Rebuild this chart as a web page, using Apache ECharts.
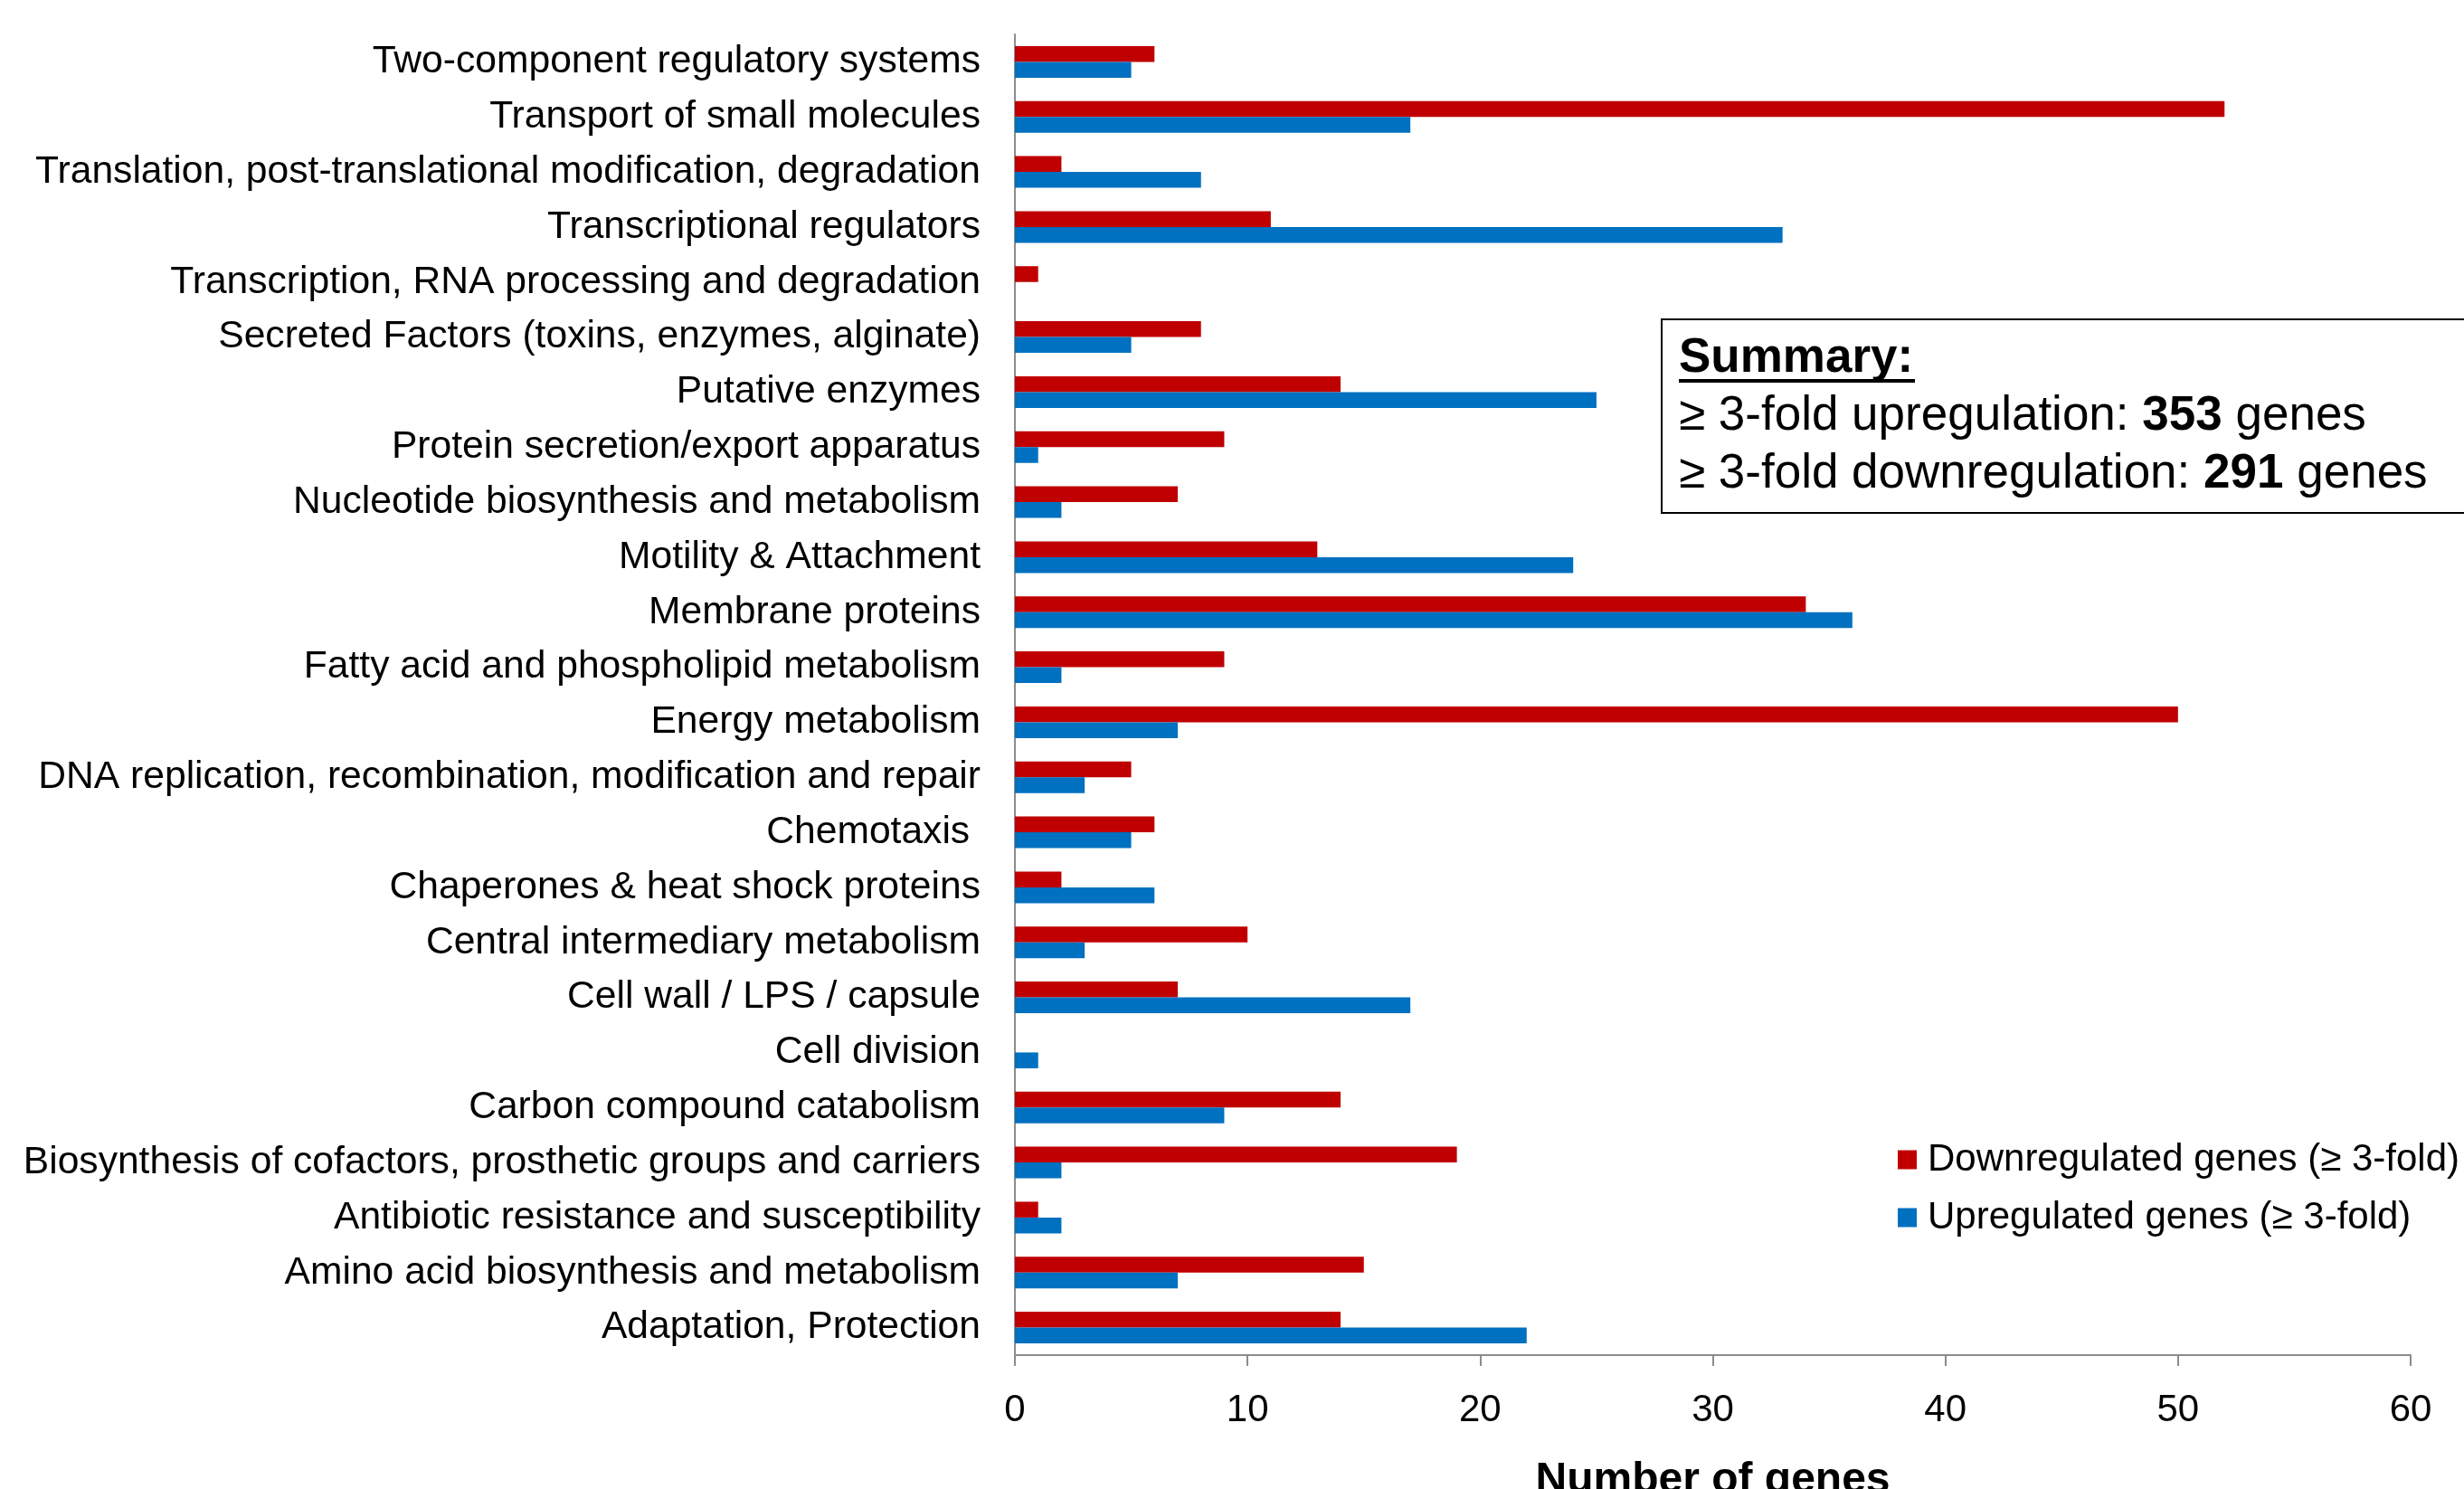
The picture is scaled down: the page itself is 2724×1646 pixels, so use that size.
<!DOCTYPE html>
<html>
<head>
<meta charset="utf-8">
<script src="https://cdn.jsdelivr.net/npm/echarts@6/dist/echarts.min.js"></script>
<style>
  html, body { margin: 0; padding: 0; background: #ffffff; }
  #chart { width: 2724px; height: 1646px; }
</style>
</head>
<body>
<div id="chart"></div>
<script>
// Functional categories, listed top to bottom
const categories = [
  'Two-component regulatory systems',
  'Transport of small molecules',
  'Translation, post-translational modification, degradation',
  'Transcriptional regulators',
  'Transcription, RNA processing and degradation',
  'Secreted Factors (toxins, enzymes, alginate)',
  'Putative enzymes',
  'Protein secretion/export apparatus',
  'Nucleotide biosynthesis and metabolism',
  'Motility & Attachment',
  'Membrane proteins',
  'Fatty acid and phospholipid metabolism',
  'Energy metabolism',
  'DNA replication, recombination, modification and repair',
  'Chemotaxis ',
  'Chaperones & heat shock proteins',
  'Central intermediary metabolism',
  'Cell wall / LPS / capsule',
  'Cell division',
  'Carbon compound catabolism',
  'Biosynthesis of cofactors, prosthetic groups and carriers',
  'Antibiotic resistance and susceptibility',
  'Amino acid biosynthesis and metabolism',
  'Adaptation, Protection'
];

// Number of genes per category
const downregulated = [6, 52, 2, 11, 1, 8, 14, 9, 7, 13, 34, 9, 50, 5, 6, 2, 10, 7, 0, 14, 19, 1, 15, 14];
const upregulated   = [5, 17, 8, 33, 0, 5, 25, 1, 2, 24, 36, 2, 7, 3, 5, 6, 3, 17, 1, 9, 2, 2, 7, 22];

const xTicks = { min: 0, max: 60, interval: 10 };

const seriesNames = ['Downregulated genes (\u2265 3-fold)', 'Upregulated genes (\u2265 3-fold)'];
const summaryUp = 353;
const summaryDown = 291;

const FONT = '"Liberation Sans", Arial, sans-serif';
const RED = '#C00000';
const BLUE = '#0070C0';
const AXIS_GREY = '#8C8C8C';

const chart = echarts.init(document.getElementById('chart'), null, { renderer: 'canvas' });

chart.setOption({
  backgroundColor: '#ffffff',
  animation: false,
  textStyle: { fontFamily: FONT, color: '#000' },
  grid: {
    left: 1122, right: 59, top: 38, bottom: 148,
    containLabel: false,
    outerBoundsMode: 'none'
  },
  legend: {
    orient: 'vertical',
    left: 2093,
    top: 1256,
    itemWidth: 21,
    itemHeight: 21,
    itemGap: 22,
    icon: 'rect',
    data: seriesNames,
    textStyle: { fontSize: 42, color: '#000', fontFamily: FONT, padding: [0, 0, 0, 7] }
  },
  xAxis: {
    type: 'value',
    min: xTicks.min,
    max: xTicks.max,
    interval: xTicks.interval,
    name: 'Number of genes',
    nameLocation: 'middle',
    nameGap: 115,
    nameTextStyle: { fontSize: 48, fontWeight: 'bold', color: '#000', fontFamily: FONT },
    axisLine: { show: true, lineStyle: { color: AXIS_GREY, width: 2 } },
    axisTick: { show: true, length: 12, lineStyle: { color: AXIS_GREY, width: 2 } },
    axisLabel: { fontSize: 42, color: '#000', margin: 40, fontFamily: FONT },
    splitLine: { show: false }
  },
  yAxis: {
    type: 'category',
    inverse: true,
    data: categories,
    axisLine: { show: true, lineStyle: { color: AXIS_GREY, width: 2 } },
    axisTick: { show: false },
    axisLabel: { fontSize: 42.6, color: '#000', margin: 38, fontFamily: FONT, interval: 0, padding: [9, 0, 0, 0] },
    splitLine: { show: false }
  },
  series: [
    {
      name: seriesNames[0],
      type: 'bar',
      data: downregulated,
      barWidth: 17.5,
      barGap: '0%',
      itemStyle: { color: RED }
    },
    {
      name: seriesNames[1],
      type: 'bar',
      data: upregulated,
      barWidth: 17.5,
      barGap: '0%',
      itemStyle: { color: BLUE }
    }
  ],
  graphic: [
    {
      type: 'rect',
      left: 1836,
      top: 352,
      shape: { width: 1000, height: 214 },
      style: { fill: '#fff', stroke: '#000', lineWidth: 2 },
      z: 10
    },
    {
      type: 'text',
      left: 1856,
      top: 364,
      z: 11,
      style: {
        text: '{h|Summary:}\n\u2265 3-fold upregulation: {b|' + summaryUp + '} genes\n\u2265 3-fold downregulation: {b|' + summaryDown + '} genes',
        fontFamily: FONT,
        fontSize: 53,
        lineHeight: 64,
        fill: '#000',
        rich: {
          h: { fontSize: 53, fontWeight: 'bold', fontFamily: FONT, lineHeight: 64 },
          b: { fontSize: 53, fontWeight: 'bold', fontFamily: FONT, lineHeight: 64 }
        }
      }
    },
    {
      type: 'rect',
      left: 1856,
      top: 419,
      shape: { width: 261, height: 4 },
      style: { fill: '#000' },
      z: 11
    }
  ]
});
</script>
</body>
</html>
